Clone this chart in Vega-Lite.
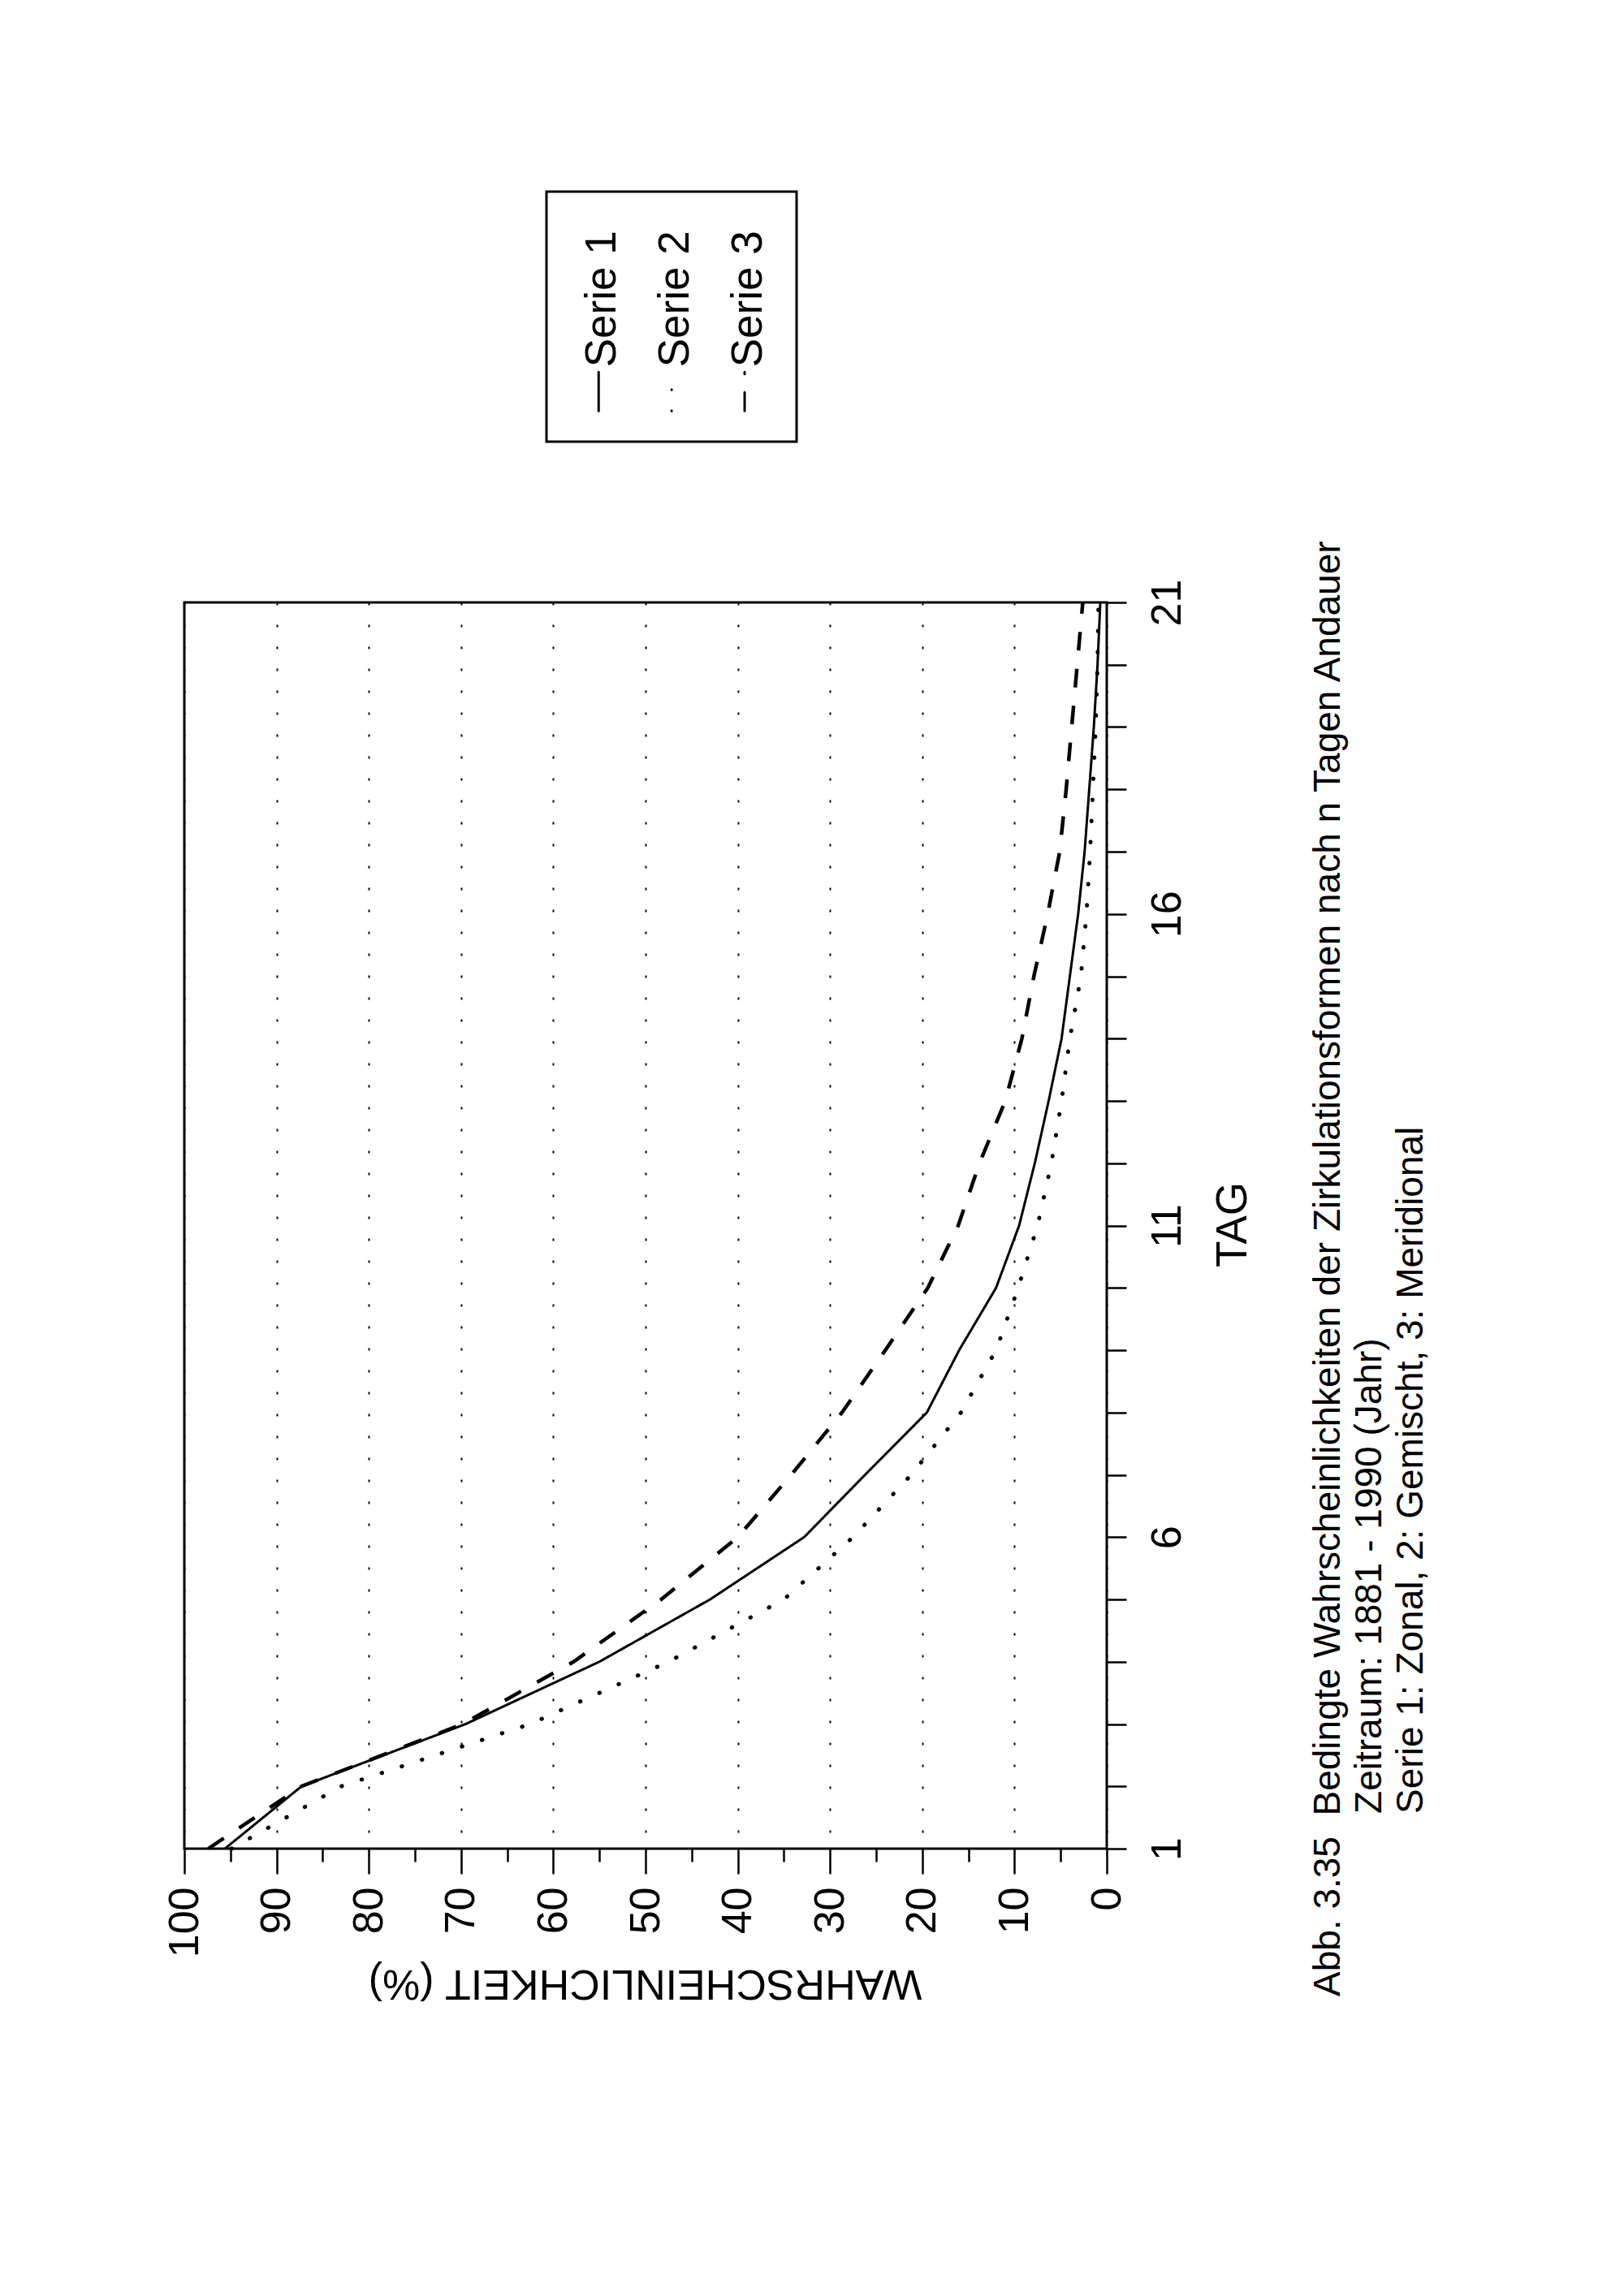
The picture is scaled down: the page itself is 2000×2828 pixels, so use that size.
{
  "$schema": "https://vega.github.io/schema/vega-lite/v6.json",
  "width": 1136,
  "height": 1535,
  "autosize": {"type": "none"},
  "padding": {"left": 227, "top": 742, "right": 637, "bottom": 551},
  "background": "white",
  "title": {
    "text": [
      "Abb. 3.35\u2007Bedingte Wahrscheinlichkeiten der Zirkulationsformen nach n Tagen Andauer",
      "\u200b\u2007\u2007\u2007\u2007\u2007\u2007\u2007\u2002\u2002Zeitraum: 1881 - 1990 (Jahr)",
      "\u200b\u2007\u2007\u2007\u2007\u2007\u2007\u2007\u2002\u2002Serie 1: Zonal, 2: Gemischt, 3: Meridional"
    ],
    "orient": "right",
    "anchor": "end",
    "frame": "group",
    "angle": 270,
    "align": "left",
    "baseline": "alphabetic",
    "font": "Liberation Sans",
    "fontSize": 46,
    "fontWeight": "normal",
    "lineHeight": 51,
    "color": "black",
    "offset": -43,
    "dx": -182
  },
  "data": {
    "values": [
      {"tag": 1, "p": 95.6, "serie": "Serie 1"},
      {"tag": 2, "p": 87.3, "serie": "Serie 1"},
      {"tag": 3, "p": 69.5, "serie": "Serie 1"},
      {"tag": 4, "p": 55.0, "serie": "Serie 1"},
      {"tag": 5, "p": 43.0, "serie": "Serie 1"},
      {"tag": 6, "p": 32.8, "serie": "Serie 1"},
      {"tag": 7, "p": 26.2, "serie": "Serie 1"},
      {"tag": 8, "p": 19.5, "serie": "Serie 1"},
      {"tag": 9, "p": 16.0, "serie": "Serie 1"},
      {"tag": 10, "p": 12.0, "serie": "Serie 1"},
      {"tag": 11, "p": 9.5, "serie": "Serie 1"},
      {"tag": 12, "p": 7.8, "serie": "Serie 1"},
      {"tag": 13, "p": 6.3, "serie": "Serie 1"},
      {"tag": 14, "p": 4.9, "serie": "Serie 1"},
      {"tag": 15, "p": 4.0, "serie": "Serie 1"},
      {"tag": 16, "p": 3.1, "serie": "Serie 1"},
      {"tag": 17, "p": 2.4, "serie": "Serie 1"},
      {"tag": 18, "p": 1.9, "serie": "Serie 1"},
      {"tag": 19, "p": 1.4, "serie": "Serie 1"},
      {"tag": 20, "p": 1.0, "serie": "Serie 1"},
      {"tag": 21, "p": 0.7, "serie": "Serie 1"},
      {"tag": 1, "p": 94.9, "serie": "Serie 2"},
      {"tag": 2, "p": 83.0, "serie": "Serie 2"},
      {"tag": 3, "p": 62.5, "serie": "Serie 2"},
      {"tag": 4, "p": 47.5, "serie": "Serie 2"},
      {"tag": 5, "p": 35.0, "serie": "Serie 2"},
      {"tag": 6, "p": 27.5, "serie": "Serie 2"},
      {"tag": 7, "p": 21.2, "serie": "Serie 2"},
      {"tag": 8, "p": 15.8, "serie": "Serie 2"},
      {"tag": 9, "p": 12.0, "serie": "Serie 2"},
      {"tag": 10, "p": 9.6, "serie": "Serie 2"},
      {"tag": 11, "p": 7.5, "serie": "Serie 2"},
      {"tag": 12, "p": 6.0, "serie": "Serie 2"},
      {"tag": 13, "p": 4.9, "serie": "Serie 2"},
      {"tag": 14, "p": 4.0, "serie": "Serie 2"},
      {"tag": 15, "p": 2.8, "serie": "Serie 2"},
      {"tag": 16, "p": 2.2, "serie": "Serie 2"},
      {"tag": 17, "p": 1.8, "serie": "Serie 2"},
      {"tag": 18, "p": 1.5, "serie": "Serie 2"},
      {"tag": 19, "p": 1.2, "serie": "Serie 2"},
      {"tag": 20, "p": 1.0, "serie": "Serie 2"},
      {"tag": 21, "p": 0.9, "serie": "Serie 2"},
      {"tag": 1, "p": 97.4, "serie": "Serie 3"},
      {"tag": 2, "p": 87.3, "serie": "Serie 3"},
      {"tag": 3, "p": 69.8, "serie": "Serie 3"},
      {"tag": 4, "p": 57.8, "serie": "Serie 3"},
      {"tag": 5, "p": 48.3, "serie": "Serie 3"},
      {"tag": 6, "p": 40.0, "serie": "Serie 3"},
      {"tag": 7, "p": 34.2, "serie": "Serie 3"},
      {"tag": 8, "p": 28.7, "serie": "Serie 3"},
      {"tag": 9, "p": 24.0, "serie": "Serie 3"},
      {"tag": 10, "p": 19.4, "serie": "Serie 3"},
      {"tag": 11, "p": 16.1, "serie": "Serie 3"},
      {"tag": 12, "p": 13.8, "serie": "Serie 3"},
      {"tag": 13, "p": 11.0, "serie": "Serie 3"},
      {"tag": 14, "p": 9.2, "serie": "Serie 3"},
      {"tag": 15, "p": 7.9, "serie": "Serie 3"},
      {"tag": 16, "p": 6.4, "serie": "Serie 3"},
      {"tag": 17, "p": 5.1, "serie": "Serie 3"},
      {"tag": 18, "p": 4.4, "serie": "Serie 3"},
      {"tag": 19, "p": 3.8, "serie": "Serie 3"},
      {"tag": 20, "p": 3.2, "serie": "Serie 3"},
      {"tag": 21, "p": 2.6, "serie": "Serie 3"}
    ]
  },
  "encoding": {
    "y": {
      "field": "tag",
      "type": "quantitative",
      "scale": {"domain": [1, 21], "nice": false, "zero": false},
      "axis": {
        "orient": "right",
        "values": [1, 2, 3, 4, 5, 6, 7, 8, 9, 10, 11, 12, 13, 14, 15, 16, 17, 18, 19, 20, 21],
        "labelExpr": "(datum.value - 1) % 5 == 0 ? datum.label : ''",
        "grid": false,
        "domain": false,
        "tickSize": 24,
        "tickWidth": 2.5,
        "tickColor": "black",
        "labelAngle": 270,
        "labelAlign": "center",
        "labelBaseline": "alphabetic",
        "labelPadding": 66,
        "labelFontSize": 52,
        "labelFlush": false,
        "labelOverlap": false,
        "title": "TAG",
        "titleAngle": 270,
        "titleAlign": "center",
        "titleBaseline": "alphabetic",
        "titleX": 171,
        "titleY": 766,
        "titleFontSize": 53
      }
    },
    "strokeDash": {
      "field": "serie",
      "type": "nominal",
      "scale": {
        "domain": ["Serie 1", "Serie 2", "Serie 3"],
        "range": [[1, 0], [0.5, 25.5], [23, 22.6]]
      },
      "legend": {
        "orient": "none",
        "legendX": 446,
        "legendY": -506,
        "direction": "horizontal",
        "title": " ",
        "titleFontSize": 10,
        "titlePadding": 178,
        "padding": 31.5,
        "columnPadding": 24.9,
        "strokeColor": "black",
        "fillColor": "white",
        "symbolType": "M0.26,1L0.26,-1",
        "symbolSize": 2304,
        "symbolStrokeWidth": 3,
        "symbolStrokeColor": "black",
        "symbolFillColor": "transparent",
        "labelFontSize": 53,
        "labelLimit": 0,
        "labelColor": "black",
        "encoding": {
          "labels": {
            "angle": {"value": 270},
            "align": {"value": "left"},
            "baseline": {"value": "alphabetic"},
            "x": {"value": 53.5},
            "y": {"value": -3.5}
          },
          "symbols": {
            "strokeCap": {"value": "round"},
            "strokeWidth": {"value": 3},
            "stroke": {"value": "black"}
          },
          "legend": {
            "strokeWidth": {"value": 3}
          }
        }
      }
    },
    "order": {"field": "tag", "type": "quantitative"}
  },
  "layer": [
    {
      "transform": [{"filter": "datum.serie === 'Serie 1'"}],
      "mark": {"type": "line", "color": "black", "strokeWidth": 3},
      "encoding": {
        "x": {
          "field": "p",
          "type": "quantitative",
          "scale": {"domain": [0, 100], "reverse": true, "nice": false},
          "axis": {
            "orient": "bottom",
            "values": [0, 10, 20, 30, 40, 50, 60, 70, 80, 90, 100],
            "grid": true,
            "gridColor": "black",
            "gridDash": [3, 24],
            "gridWidth": 2,
            "gridOpacity": 1,
            "domain": false,
            "tickSize": 31,
            "tickWidth": 2.5,
            "tickColor": "black",
            "labelAngle": 270,
            "labelAlign": "right",
            "labelBaseline": "middle",
            "labelPadding": 16,
            "labelFontSize": 52,
            "labelFlush": false,
            "labelOverlap": false,
            "title": "WAHRSCHEINLICHKEIT (%)",
            "titleAngle": 180,
            "titleAlign": "left",
            "titleBaseline": "alphabetic",
            "titleX": 908,
            "titleY": 149,
            "titleFontSize": 52
          }
        }
      }
    },
    {
      "transform": [{"filter": "datum.serie === 'Serie 2'"}],
      "mark": {"type": "line", "color": "black", "strokeWidth": 5, "strokeCap": "round"},
      "encoding": {
        "x": {
          "field": "p",
          "type": "quantitative",
          "scale": {"domain": [0, 100], "reverse": true, "nice": false},
          "axis": {
            "orient": "bottom",
            "values": [5, 15, 25, 35, 45, 55, 65, 75, 85, 95],
            "labels": false,
            "grid": false,
            "domain": false,
            "tickSize": 16,
            "tickWidth": 2.5,
            "tickColor": "black",
            "title": null
          }
        }
      }
    },
    {
      "transform": [{"filter": "datum.serie === 'Serie 3'"}],
      "mark": {"type": "line", "color": "black", "strokeWidth": 4.5},
      "encoding": {
        "x": {
          "field": "p",
          "type": "quantitative",
          "scale": {"domain": [0, 100], "reverse": true, "nice": false},
          "axis": null
        }
      }
    }
  ],
  "resolve": {"axis": {"x": "independent"}},
  "config": {
    "font": "Liberation Sans",
    "view": {"stroke": "black", "strokeWidth": 3},
    "axis": {
      "labelColor": "black",
      "titleColor": "black",
      "labelFont": "Liberation Sans",
      "titleFont": "Liberation Sans",
      "titleFontWeight": "normal"
    },
    "legend": {
      "labelFont": "Liberation Sans"
    }
  }
}
